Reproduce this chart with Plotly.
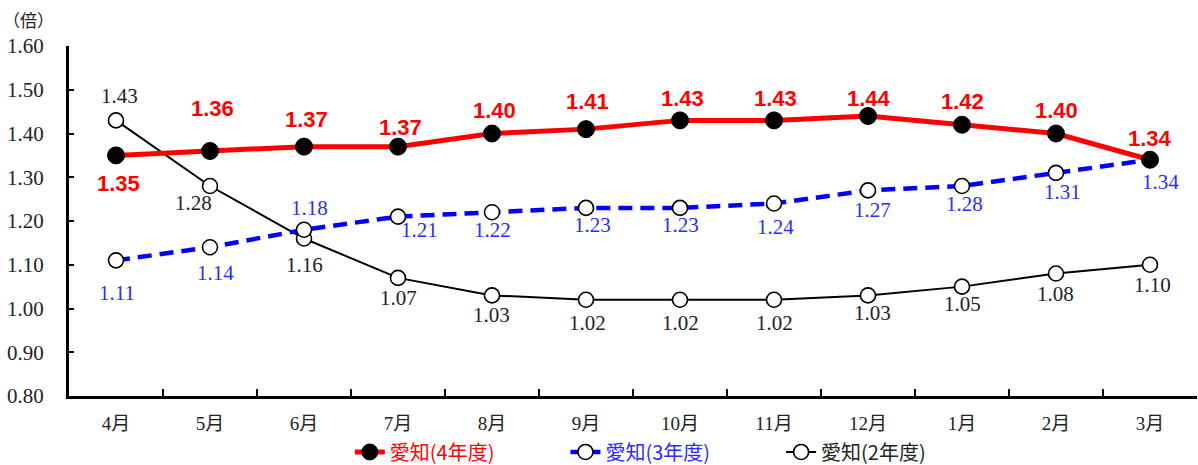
import plotly.graph_objects as go

months = ["4月", "5月", "6月", "7月", "8月", "9月", "10月", "11月", "12月", "1月", "2月", "3月"]
aichi_r4 = [1.35, 1.36, 1.37, 1.37, 1.40, 1.41, 1.43, 1.43, 1.44, 1.42, 1.40, 1.34]
aichi_r3 = [1.11, 1.14, 1.18, 1.21, 1.22, 1.23, 1.23, 1.24, 1.27, 1.28, 1.31, 1.34]
aichi_r2 = [1.43, 1.28, 1.16, 1.07, 1.03, 1.02, 1.02, 1.02, 1.03, 1.05, 1.08, 1.10]
y_ticks = [0.80, 0.90, 1.00, 1.10, 1.20, 1.30, 1.40, 1.50, 1.60]

# label offsets in pixels (style only): (dx, dy) with dy positive = downward
off_r4 = [(2, 28), (2, -43), (2, -27), (2, -19), (2, -23), (1, -28), (2, -22), (1, -22), (1, -18), (0, -23), (0, -23), (0, -21)]
off_r3 = [(1, 33), (5, 26), (5, -22), (21, 13), (0, 18), (6, 17), (0, 17), (1, 23), (4, 20), (2, 18), (6, 19), (10, 22)]
off_r2 = [(3, -24), (-17, 17), (0, 26), (0, 20), (-1, 20), (1, 23), (0, 23), (0, 23), (4, 18), (0, 17), (-1, 20), (2, 20)]

SERIF = "Liberation Serif, Noto Sans CJK JP"
JP = "Noto Sans CJK JP"
RED = "#ff0000"
BLUE_TXT = "#2b2bff"
BLK_TXT = "#222222"

fig = go.Figure()

fig.add_trace(go.Scatter(
    x=months, y=aichi_r2, mode="lines+markers",
    name=f"<span style='color:{BLK_TXT}'>愛知(2年度)</span>",
    line=dict(color="black", width=2),
    marker=dict(symbol="circle", size=15, color="white", line=dict(color="black", width=1.6)),
    legend="legend3", cliponaxis=False,
))
fig.add_trace(go.Scatter(
    x=months, y=aichi_r3, mode="lines+markers",
    name=f"<span style='color:{BLUE_TXT}'>愛知(3年度)</span>",
    line=dict(color="#0000ff", width=4.5, dash="14px,8px"),
    marker=dict(symbol="circle", size=15, color="white", line=dict(color="black", width=1.6)),
    legend="legend2", cliponaxis=False,
))
fig.add_trace(go.Scatter(
    x=months, y=aichi_r4, mode="lines+markers",
    name=f"<span style='color:{RED}'>愛知(4年度)</span>",
    line=dict(color=RED, width=5),
    marker=dict(symbol="circle", size=17, color="black", line=dict(color="black", width=1)),
    legend="legend", cliponaxis=False,
))

def add_labels(vals, offs, font):
    for m, v, (dx, dy) in zip(months, vals, offs):
        fig.add_annotation(x=m, y=v, text=f"{v:.2f}", showarrow=False,
                           xshift=dx, yshift=-dy, xanchor="center", yanchor="middle",
                           font=font)

add_labels(aichi_r2, off_r2, dict(family=SERIF, size=21, color=BLK_TXT))
add_labels(aichi_r3, off_r3, dict(family=SERIF, size=21, color=BLUE_TXT))
add_labels(aichi_r4, off_r4, dict(family="Liberation Sans", size=22, color=RED, weight="bold"))

fig.add_annotation(text="（倍）", xref="paper", yref="paper", x=-0.06, y=1.0, yshift=27,
                   xanchor="left", yanchor="middle", showarrow=False,
                   font=dict(family=JP, size=17, color=BLK_TXT))

def legend_style(xpos):
    return dict(orientation="h", xref="container", x=xpos, xanchor="left",
                yref="container", y=0.028, yanchor="middle",
                font=dict(family=JP, size=20), bgcolor="rgba(0,0,0,0)")

fig.update_layout(
    width=1198, height=465, autosize=False,
    margin=dict(l=69, r=1, t=46, b=69),
    paper_bgcolor="white", plot_bgcolor="white",
    font=dict(family=SERIF, size=16, color=BLK_TXT),
    showlegend=True,
    legend=legend_style(0.292),
    legend2=legend_style(0.472),
    legend3=legend_style(0.652),
)

fig.update_xaxes(
    type="category", categoryorder="array", categoryarray=months,
    range=[-0.5, 11.5], automargin=False,
    showline=True, linecolor="black", linewidth=3,
    ticks="inside", ticklen=7, tickwidth=2, tickcolor="black", tickson="boundaries",
    showgrid=False, zeroline=False,
    tickfont=dict(family=SERIF, size=19, color=BLK_TXT),
    ticklabelstandoff=8,
)
fig.update_yaxes(
    range=[0.80, 1.60], tickvals=y_ticks, ticktext=[f"{v:.2f}" for v in y_ticks],
    automargin=False,
    showline=True, linecolor="black", linewidth=3,
    ticks="inside", ticklen=5, tickwidth=2, tickcolor="black",
    showgrid=False, zeroline=False,
    tickfont=dict(family=SERIF, size=21, color=BLK_TXT),
    ticklabelstandoff=18,
)

post = (
    "document.documentElement.style.margin='0';"
    "document.body.style.margin='0';"
    "document.body.style.overflow='hidden';"
    "document.documentElement.style.overflow='hidden';"
)
fig.write_html("out.html", post_script=post,
               config={"displayModeBar": False})
